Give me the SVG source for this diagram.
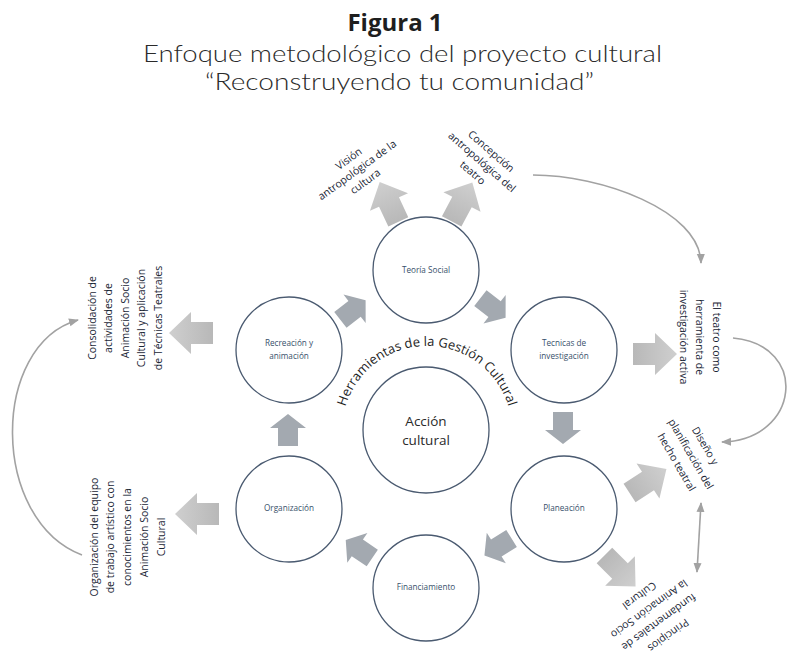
<svg xmlns="http://www.w3.org/2000/svg" xmlns:xlink="http://www.w3.org/1999/xlink" width="791" height="656" viewBox="0 0 791 656">
  <style>
    .title { font-family: "Open Sans", "Noto Sans", sans-serif; fill: #1e1e1e; text-anchor: middle; }
    .sub { font-family: Lato, "Open Sans", sans-serif; font-weight: 300; fill: #2a2a2a; text-anchor: middle; font-size: 23px; }
    .node circle { fill: #ffffff; stroke: #4a5a70; stroke-width: 1.3; }
    .node text { font-family: "Open Sans", "Noto Sans", sans-serif; font-size: 8.2px; fill: #37506b; text-anchor: middle; }
    .node.core text { font-size: 13.5px; fill: #2a2a2a; }
    .lbl text { font-family: "Open Sans", "Noto Sans", sans-serif; font-size: 10.5px; fill: #1a2636; text-anchor: middle; }
    .arc { font-family: "Open Sans", "Noto Sans", sans-serif; font-size: 13px; fill: #1e1e1e; }
    .conn { fill: none; stroke: #a2a2a2; stroke-width: 1.6; }
    .inner { fill: #a3a9b0; }
    .outer { fill: url(#outerFill); }
  </style>
  <defs>
    <linearGradient id="outerFill" x1="0" y1="0" x2="1" y2="0">
      <stop offset="0" stop-color="#b8b8b8"/>
      <stop offset="1" stop-color="#cfcfcf"/>
    </linearGradient>
    <!-- block arrows, drawn pointing right around their centre -->
    <path id="innerArrow" d="M -16 -10 L 2 -10 L 2 -18 L 16 0 L 2 18 L 2 10 L -16 10 Z"/>
    <path id="outerArrow" d="M -22 -11 L 0 -11 L 0 -21 L 22 0 L 0 21 L 0 11 L -22 11 Z"/>
    <marker id="tip" markerUnits="userSpaceOnUse" markerWidth="10" markerHeight="10" viewBox="0 0 10 10" refX="9" refY="5" orient="auto-start-reverse">
      <path d="M 0 1 L 10 5 L 0 9 Z" fill="#a2a2a2"/>
    </marker>
    <path id="arcPath" d="M 344.5 410.4 A 85 85 0 0 1 509.5 410.4"/>
  </defs>

  <!-- heading -->
  <text class="title" x="395" y="31" font-size="24" font-weight="700">Figura 1</text>
  <text class="sub" x="402.5" y="62" textLength="519" lengthAdjust="spacingAndGlyphs">Enfoque metodológico del proyecto cultural</text>
  <text class="sub" x="399.5" y="90" textLength="389" lengthAdjust="spacingAndGlyphs">“Reconstruyendo tu comunidad”</text>

  <!-- connectors -->
  <g id="connectors">
    <path class="conn" d="M 82 555 C -10 520, -10 345, 78 320" marker-end="url(#tip)"/>
    <path class="conn" d="M 533 175 C 600 175, 700 210, 701 263" marker-end="url(#tip)"/>
    <path class="conn" d="M 733 338 C 810 345, 800 440, 722 442" marker-end="url(#tip)"/>
    <path class="conn" d="M 701 503 L 697 572" marker-start="url(#tip)" marker-end="url(#tip)"/>
  </g>

  <!-- block arrows between the tools -->
  <g id="cycle-arrows" class="inner">
    <use href="#innerArrow" transform="translate(353 310) rotate(-38)"/>
    <use href="#innerArrow" transform="translate(493 308) rotate(38)"/>
    <use href="#innerArrow" transform="translate(563 428) rotate(90)"/>
    <use href="#innerArrow" transform="translate(498 547) rotate(148)"/>
    <use href="#innerArrow" transform="translate(359 549) rotate(-146)"/>
    <use href="#innerArrow" transform="translate(288 430) rotate(-90)"/>
  </g>

  <!-- block arrows towards the outcomes -->
  <g id="outcome-arrows" class="outer">
    <use href="#outerArrow" transform="translate(389 202) rotate(-115)"/>
    <use href="#outerArrow" transform="translate(462 202) rotate(-62)"/>
    <use href="#outerArrow" transform="translate(655 354)"/>
    <use href="#outerArrow" transform="translate(648 481) rotate(-33)"/>
    <use href="#outerArrow" transform="translate(620 571) rotate(45)"/>
    <use href="#outerArrow" transform="translate(191 333) rotate(180)"/>
    <use href="#outerArrow" transform="translate(197 514) rotate(180)"/>
  </g>

  <!-- tools of cultural management -->
  <g id="teoria-social" class="node">
    <circle cx="426" cy="270" r="53"/>
    <text x="426" y="273">Teoría Social</text>
  </g>
  <g id="tecnicas" class="node">
    <circle cx="564" cy="350" r="53"/>
    <text x="564" y="346">Tecnicas de</text>
    <text x="564" y="359">investigación</text>
  </g>
  <g id="planeacion" class="node">
    <circle cx="564" cy="509" r="53"/>
    <text x="564" y="511">Planeación</text>
  </g>
  <g id="financiamiento" class="node">
    <circle cx="426" cy="588" r="53"/>
    <text x="426" y="590">Financiamiento</text>
  </g>
  <g id="organizacion" class="node">
    <circle cx="289" cy="509" r="53"/>
    <text x="289" y="511">Organización</text>
  </g>
  <g id="recreacion" class="node">
    <circle cx="289" cy="350" r="53"/>
    <text x="289" y="346">Recreación y</text>
    <text x="289" y="359">animación</text>
  </g>
  <g id="accion-cultural" class="node core">
    <circle cx="426" cy="430" r="63"/>
    <text x="426" y="426">Acción</text>
    <text x="426" y="445">cultural</text>
  </g>

  <!-- arched heading over the core -->
  <text id="herramientas" class="arc"><textPath href="#arcPath" startOffset="50%" text-anchor="middle">Herramientas de la Gestión Cultural</textPath></text>

  <!-- outcomes -->
  <g id="vision" class="lbl" transform="translate(357 170) rotate(-36)">
    <text y="-10.3">Visión</text>
    <text y="3.7">antropológica de la</text>
    <text y="17.7">cultura</text>
  </g>
  <g id="concepcion" class="lbl" transform="translate(482 162) rotate(41)">
    <text y="-10.5">Concepción</text>
    <text y="3.7">antropológica del</text>
    <text y="17.9">teatro</text>
  </g>
  <g id="teatro-herramienta" class="lbl" transform="translate(700 337) rotate(90)">
    <text y="-12.8">El teatro como</text>
    <text y="3.7">herramienta de</text>
    <text y="20.2">investigación activa</text>
  </g>
  <g id="diseno" class="lbl" transform="translate(691 454) rotate(60)">
    <text y="-12.8">Diseño y</text>
    <text y="3.7">planificación del</text>
    <text y="20.2">hecho teatral</text>
  </g>
  <g id="principios" class="lbl" transform="translate(654 615.5) rotate(144)">
    <text y="-20.9">Principios</text>
    <text y="-4.5">fundamentales de</text>
    <text y="11.9">la Animación Socio</text>
    <text y="28.3">Cultural</text>
  </g>
  <g id="consolidacion" class="lbl" transform="translate(125 318) rotate(-90)">
    <text y="-29.5">Consolidación de</text>
    <text y="-12.9">actividades de</text>
    <text y="3.7">Animación Socio</text>
    <text y="20.3">Cultural y aplicación</text>
    <text y="36.9">de Técnicas Teatrales</text>
  </g>
  <g id="organizacion-equipo" class="lbl" transform="translate(127.5 537) rotate(-90)">
    <text y="-29.9">Organización del equipo</text>
    <text y="-13.1">de trabajo artístico con</text>
    <text y="3.7">conocimientos en la</text>
    <text y="20.5">Animación Socio</text>
    <text y="37.3">Cultural</text>
  </g>
</svg>
